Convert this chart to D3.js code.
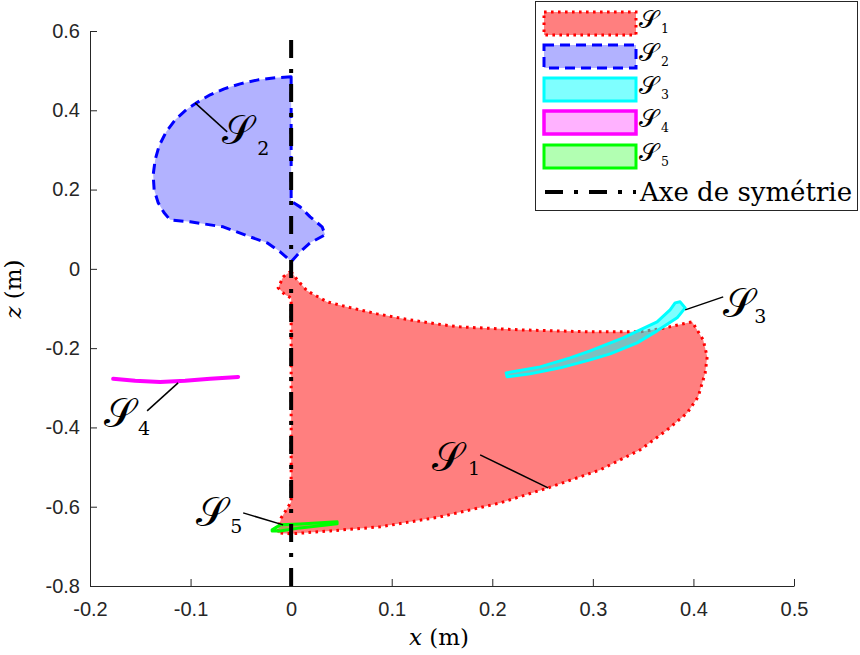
<!DOCTYPE html>
<html><head><meta charset="utf-8">
<script src="https://cdn.jsdelivr.net/npm/d3@7"></script>
<style>body{margin:0;background:#fff}</style>
</head><body>
<svg id="c" width="860" height="655"></svg>
<script>
// ---- data (x, z in metres) ----
const xTicks = [-0.2,-0.1,0,0.1,0.2,0.3,0.4,0.5];
const xTickLabels = ["-0.2","-0.1","0","0.1","0.2","0.3","0.4","0.5"];
const zTicks = [0.6,0.4,0.2,0,-0.2,-0.4,-0.6,-0.8];
const zTickLabels = ["0.6","0.4","0.2","0","-0.2","-0.4","-0.6","-0.8"];

const S1 = [[0,-0.0076],[0.006,-0.0277],[0.0159,-0.0555],[0.0358,-0.0833],[0.0557,-0.0959],[0.0855,-0.1135],[0.1183,-0.1287],[0.1511,-0.1413],[0.168,-0.1463],[0.2277,-0.1539],[0.2973,-0.1589],[0.347,-0.1589],[0.3719,-0.1488],[0.3987,-0.1337],[0.4097,-0.1791],[0.4137,-0.222],[0.4117,-0.2624],[0.4047,-0.3229],[0.3938,-0.3633],[0.3739,-0.4062],[0.347,-0.4566],[0.3072,-0.5071],[0.2555,-0.5525],[0.2078,-0.5904],[0.1482,-0.6256],[0.0885,-0.6508],[0.0388,-0.661],[0,-0.6685],[-0.0139,-0.666],[-0.0099,-0.6282],[0,-0.5878],[0,-0.0732],[-0.006,-0.0656],[-0.0129,-0.0479],[-0.008,-0.0202],[-0.001,-0.0076]];
const S2 = [[0,0.4844],[-0.0159,0.4818],[-0.0328,0.4768],[-0.0507,0.4667],[-0.0666,0.4541],[-0.0805,0.439],[-0.0925,0.4213],[-0.1044,0.4011],[-0.1153,0.3759],[-0.1243,0.3456],[-0.1313,0.3103],[-0.1352,0.275],[-0.1372,0.2371],[-0.1362,0.1993],[-0.1322,0.1665],[-0.1263,0.1413],[-0.1203,0.1236],[-0.1004,0.1186],[-0.0676,0.106],[-0.0408,0.0807],[-0.0239,0.0656],[-0.0109,0.0429],[-0.003,0.0252],[0,0.0177],[0.0089,0.0429],[0.0189,0.0656],[0.0338,0.0858],[0.0308,0.106],[0.0189,0.1312],[0.0089,0.1564],[0.001,0.169],[0,0.169]];
const S3 = [[0.2138,-0.2624],[0.2476,-0.2472],[0.2774,-0.2245],[0.2973,-0.2069],[0.3301,-0.1741],[0.3639,-0.1337],[0.3768,-0.1034],[0.3818,-0.0858],[0.3868,-0.0832],[0.3918,-0.0984],[0.3838,-0.1236],[0.3639,-0.1564],[0.344,-0.1867],[0.3172,-0.2144],[0.2973,-0.2296],[0.2675,-0.2497],[0.2376,-0.2649],[0.2148,-0.2724]];
const S4 = [[-0.177,-0.2775],[-0.1551,-0.2825],[-0.1303,-0.2851],[-0.1054,-0.2825],[-0.0805,-0.2775],[-0.0527,-0.2725]];
const S5 = [[-0.0189,-0.6584],[-0.0109,-0.6458],[0.0089,-0.6433],[0.0457,-0.6382],[0.0457,-0.6433],[0.0089,-0.6534],[-0.0109,-0.661],[-0.0189,-0.661]];
const symAxis = [[0,-0.8],[0,0.6]];

const seriesNames = ["1","2","3","4","5"];
const annoFrom = [[0.2555,-0.5525],[-0.0955,0.4188],[0.3918,-0.1034],[-0.1124,-0.2876],[-0.008,-0.6458]];
const annoTo   = [[0.1879,-0.4692],[-0.0636,0.3456],[0.4296,-0.0706],[-0.1432,-0.3582],[-0.0477,-0.6155]];
const legendLabels = ["1","2","3","4","5"];
const axisLegendLabel = "Axe de symétrie";

// ---- styles ----
const styles = [
  {fill:"rgba(255,0,0,0.5)", stroke:"#ff0000", dash:"2.6,4.4", w:3},
  {fill:"rgba(0,0,255,0.3)", stroke:"#0000ff", dash:"10,6", w:3},
  {fill:"rgba(0,255,255,0.5)", stroke:"#00ffff", dash:null, w:3},
  {fill:"rgba(255,0,255,0.3)", stroke:"#ff00ff", dash:null, w:4},
  {fill:"rgba(0,255,0,0.3)", stroke:"#00ff00", dash:null, w:3}
];
const shapes = [S1,S2,S3,S4.concat(S4.slice().reverse()),S5];

const svg = d3.select("#c");
const x = d3.scaleLinear().domain([-0.2,0.5]).range([90,794]);
const z = d3.scaleLinear().domain([-0.8,0.6]).range([586,31]);
const line = d3.line().x(d=>x(d[0])).y(d=>z(d[1]));
const axCol = "#262626";

// axes
const gx = svg.append("g").attr("transform","translate(0,586)")
  .call(d3.axisBottom(x).tickValues(xTicks).tickFormat((d,i)=>xTickLabels[i]).tickSizeInner(-7).tickSizeOuter(0).tickPadding(16));
const gy = svg.append("g").attr("transform","translate(90,0)")
  .call(d3.axisLeft(z).tickValues(zTicks).tickFormat((d,i)=>zTickLabels[i]).tickSizeInner(-7).tickSizeOuter(0).tickPadding(10));
[gx,gy].forEach(g=>{
  g.select(".domain").attr("stroke",axCol).attr("stroke-width",1);
  g.selectAll(".tick line").attr("stroke",axCol);
  g.selectAll(".tick text").attr("fill",axCol).attr("font-family","Liberation Sans, Arial, sans-serif").attr("font-size",20);
});

// shapes
shapes.forEach((s,i)=>{
  const st = styles[i];
  svg.append("path").attr("d", line(s)+"Z")
    .attr("fill",st.fill).attr("stroke",st.stroke).attr("stroke-width",st.w)
    .attr("stroke-dasharray",st.dash).attr("stroke-linejoin","round");
});

// symmetry axis
svg.append("path").attr("d",line(symAxis)).attr("stroke","#000").attr("stroke-width",4)
  .attr("stroke-dasharray","18,11,4,11").attr("fill","none");

// script labels: one text element, glyph + subscript tspan
const scriptFont = "DejaVu Serif, DejaVu Sans, Noto Sans, serif";
function scriptLabel(parent, left, bottom, size, subLeft, subBottom, subSize, t){
  const tx = parent.append("text").attr("font-family",scriptFont).attr("fill","#000");
  tx.append("tspan").attr("x",left).attr("y",bottom-1).attr("font-size",size).text("𝒮");
  tx.append("tspan").attr("x",subLeft).attr("y",subBottom).attr("font-size",subSize).text(t);
}
// [glyph dx, glyph dy (bottom), sub dx, sub dy (baseline)] relative to annotation end
const labelOffsets = [[-48,17,-12,20],[-5,13,30,23],[0,21,31,26],[-43,17,-9,24],[-47,14,-13,20]];
annoFrom.forEach((a,i)=>{
  const b = annoTo[i];
  svg.append("line").attr("x1",x(a[0])).attr("y1",z(a[1])).attr("x2",x(b[0])).attr("y2",z(b[1]))
    .attr("stroke","#000").attr("stroke-width",1.5);
  const o = labelOffsets[i], bx = x(b[0]), by = z(b[1]);
  scriptLabel(svg, bx+o[0], by+o[1], 40, bx+o[2], by+o[3], 19, seriesNames[i]);
});

// axis labels
svg.append("text").attr("x",439).attr("y",645).attr("text-anchor","middle")
  .attr("font-family","DejaVu Serif, serif").attr("font-size",23)
  .html('<tspan font-style="italic">x</tspan> (m)');
svg.append("text").attr("transform","translate(21,289) rotate(-90)").attr("text-anchor","middle")
  .attr("font-family","DejaVu Serif, serif").attr("font-size",23)
  .html('<tspan font-style="italic">z</tspan> (m)');

// legend
const lg = svg.append("g");
lg.append("rect").attr("x",535.5).attr("y",1.5).attr("width",322).attr("height",209)
  .attr("fill","#fff").attr("stroke",axCol).attr("stroke-width",1);
const rowY = [12,45,78,111,145];
legendLabels.forEach((lab,i)=>{
  const st = styles[i];
  lg.append("rect").attr("x",544).attr("y",rowY[i]).attr("width",92).attr("height",23)
    .attr("fill",st.fill).attr("stroke",st.stroke).attr("stroke-width",st.w===4?3.5:3).attr("stroke-dasharray",st.dash);
  scriptLabel(lg, 639, rowY[i]+17, 25, 661, rowY[i]+21, 12.5, lab);
});
lg.append("line").attr("x1",545).attr("x2",636).attr("y1",192).attr("y2",192)
  .attr("stroke","#000").attr("stroke-width",4).attr("stroke-dasharray","18,11,4,11");
lg.append("text").attr("x",640).attr("y",201).attr("font-family","DejaVu Serif, serif")
  .attr("font-size",26).text(axisLegendLabel);
</script>
</body></html>
